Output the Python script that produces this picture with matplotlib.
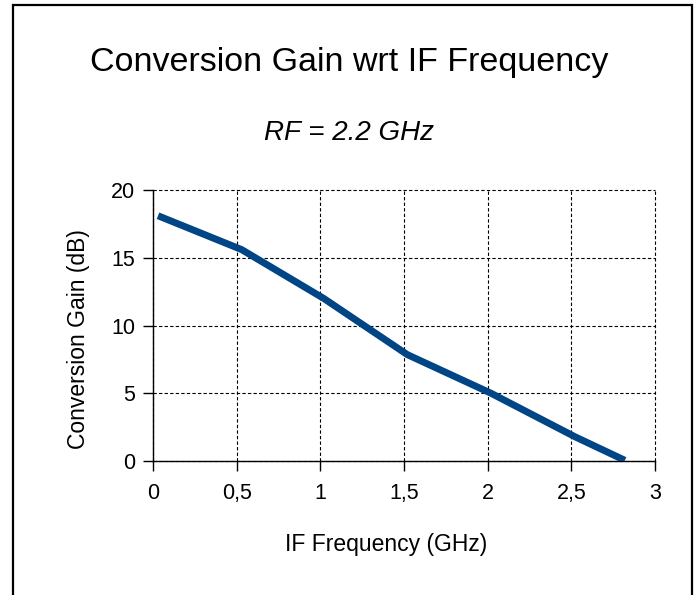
import matplotlib.pyplot as plt
from matplotlib.patches import Rectangle

# values
if_freq = [0.03, 0.53, 1.02, 1.52, 2.02, 2.52, 2.82]
conv_gain = [18.1, 15.6, 12.0, 7.85, 5.0, 1.8, 0.05]
x_ticks = [0, 0.5, 1, 1.5, 2, 2.5, 3]
x_tick_labels = ["0", "0,5", "1", "1,5", "2", "2,5", "3"]
y_ticks = [0, 5, 10, 15, 20]

plt.rcParams["font.family"] = ["Liberation Sans", "DejaVu Sans"]

W, H = 698, 595
fig = plt.figure(figsize=(W / 100, H / 100), dpi=100)

# outer frame, its bottom edge falls outside the image
fig.patches.append(Rectangle((13 / W, -0.05), (692 - 13) / W, 1.05 - 5 / H,
                             transform=fig.transFigure, fill=False,
                             edgecolor="black", linewidth=1.6))

ax = fig.add_axes([153 / W, (H - 461) / H, 502 / W, 271 / H])
ax.plot(if_freq, conv_gain, color="#004586", linewidth=5, solid_capstyle="butt",
        solid_joinstyle="round", zorder=3)

ax.set_xlim(0, 3)
ax.set_ylim(0, 20)
ax.set_xticks(x_ticks)
ax.set_xticklabels(x_tick_labels)
ax.set_yticks(y_ticks)
ax.grid(True, color="black", linestyle=(0, (3, 2)), linewidth=0.8)
for gl in ax.get_xgridlines() + ax.get_ygridlines():
    gl.set_clip_on(False)
for side in ["top", "right"]:
    ax.spines[side].set_visible(False)
for side in ["left", "bottom"]:
    ax.spines[side].set_linewidth(1.0)
ax.tick_params(direction="out", length=7, width=1.0, labelsize=15.5)
ax.tick_params(axis="x", pad=9)
ax.tick_params(axis="y", pad=6)

ax.set_xlabel("IF Frequency (GHz)", fontsize=16.5, va="center")
ax.set_ylabel("Conversion Gain (dB)", fontsize=16.5, va="center")
ax.xaxis.set_label_coords((386.5 - 153) / 502, -(545 - 461) / 271)
ax.yaxis.set_label_coords(-(153 - 78) / 502, (461 - 339) / 271)

fig.text(0.5, 1 - 63 / H, "Conversion Gain wrt IF Frequency", fontsize=24.5,
         ha="center", va="center")
fig.text(0.5, 1 - 133 / H, "RF = 2.2 GHz", fontsize=20, style="italic",
         ha="center", va="center")

fig.savefig("out.png", dpi=100)
